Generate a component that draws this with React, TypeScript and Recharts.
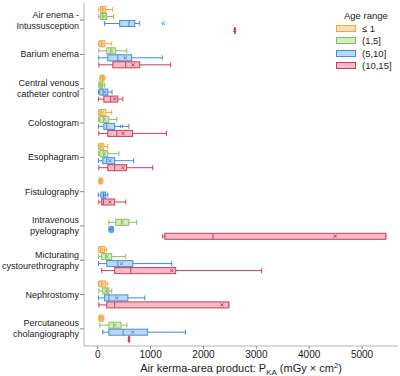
import React from 'react';
import { ComposedChart, Bar, XAxis, YAxis } from 'recharts';

const procedures = [
  'Air enema -\nIntussusception',
  'Barium enema',
  'Central venous\ncatheter control',
  'Colostogram',
  'Esophagram',
  'Fistulography',
  'Intravenous\npyelography',
  'Micturating\ncystourethrography',
  'Nephrostomy',
  'Percutaneous\ncholangiography',
];

const ageRanges = ['≤ 1', '(1,5]', '(5,10]', '(10,15]'];

// [min, q1, median, q3, max, mean] per procedure, null = no data
const ageUpTo1 = [
  [20, 55, 95, 150, 285, 100],
  [20, 28, 75, 135, 265, 85],
  [40, 55, 90, 115, 135, 90],
  [15, 25, 60, 150, 265, 85],
  [15, 20, 60, 115, 190, 70],
  [20, 30, 50, 80, 95, 55],
  null,
  [15, 20, 60, 130, 170, 75],
  [15, 25, 75, 150, 190, 85],
  [20, 30, 60, 100, 115, 65],
];

const age1to5 = [
  [20, 55, 95, 170, 300, 120],
  [20, 170, 245, 340, 550, 260],
  [20, 25, 60, 95, 130, 65],
  [15, 40, 115, 210, 360, 130],
  [15, 40, 115, 190, 400, 125],
  null,
  [210, 340, 450, 590, 735, 460],
  [15, 75, 150, 265, 530, 180],
  [20, 95, 170, 210, 265, 160],
  [40, 210, 300, 440, 550, 320],
];

const age5to10 = [
  [130, 415, 590, 700, 795, 1240],
  [20, 190, 380, 640, 1220, 520],
  [15, 40, 100, 190, 270, 130],
  [15, 115, 170, 320, 590, 450],
  [15, 95, 170, 320, 680, 230],
  [10, 60, 110, 150, 190, 115],
  [210, 230, 250, 285, 300, 250],
  [15, 170, 380, 665, 1400, 450],
  [15, 130, 210, 570, 890, 360],
  [95, 210, 480, 940, 1660, 660],
];

const age10to15 = [
  [2590, 2590, 2590, 2590, 2590, 2590],
  [20, 285, 530, 795, 1380, 665],
  [15, 115, 245, 380, 475, 320],
  [20, 190, 360, 660, 1300, 480],
  [20, 190, 320, 545, 1040, 475],
  [20, 75, 110, 320, 530, 230],
  [1230, 1270, 2180, 5450, 5450, 4490],
  [75, 320, 625, 1475, 3100, 1400],
  [20, 170, 320, 2480, 2480, 2350],
  [590, 590, 590, 590, 590, 590],
];

const xTicks = [0, 1000, 2000, 3000, 4000, 5000];

const groups = [ageUpTo1, age1to5, age5to10, age10to15];
const strokes = ['#EDA540', '#8CBF5C', '#3F8FDC', '#C83E5E'];
const fills = ['#FBDFB6', '#D6EBC3', '#BDD8F3', '#F2BBC7'];

const FONT = '"Liberation Sans", Arial, sans-serif';

const rows = procedures.map((name, i) => ({
  name,
  stats: groups.map((g) => g[i]),
}));

// bar runs from 0 to max; positions inside are taken along the bar
const BoxShape = (props: any) => {
  const { x, y, width, height, payload, group } = props;
  const s = payload.stats[group];
  if (!s) return null;
  const [min, q1, med, q3, max, mean] = s;
  const px = (v: number) => x + (v / max) * width;
  const cy = y + height / 2;
  const stroke = strokes[group];
  const h = 3;
  return (
    <g stroke={stroke} strokeWidth={1} fill="none">
      <line x1={px(min)} x2={px(q1)} y1={cy} y2={cy} />
      <line x1={px(q3)} x2={px(max)} y1={cy} y2={cy} />
      <line x1={px(min)} x2={px(min)} y1={cy - 2.5} y2={cy + 2.5} />
      <line x1={px(max)} x2={px(max)} y1={cy - 2.5} y2={cy + 2.5} />
      <rect x={px(q1)} y={cy - h} width={Math.max(px(q3) - px(q1), 0.5)} height={h * 2} fill={fills[group]} />
      <line x1={px(med)} x2={px(med)} y1={cy - h} y2={cy + h} />
      <line x1={px(mean) - 1.5} x2={px(mean) + 1.5} y1={cy - 1.5} y2={cy + 1.5} />
      <line x1={px(mean) - 1.5} x2={px(mean) + 1.5} y1={cy + 1.5} y2={cy - 1.5} />
    </g>
  );
};

const ProcedureTick = (props: any) => {
  const { x, y, payload } = props;
  const lines = String(payload.value).split('\n');
  const lh = 11;
  const y0 = y - ((lines.length - 1) * lh) / 2;
  return (
    <text textAnchor="end" dominantBaseline="central" fontSize={9} fill="#222" fontFamily={FONT}>
      {lines.map((l, i) => (
        <tspan key={i} x={x} y={y0 + i * lh}>{l}</tspan>
      ))}
    </text>
  );
};

const AxisTitle = (props: any) => {
  const { viewBox } = props;
  const cx = viewBox.x + viewBox.width / 2;
  const ty = viewBox.y + 26;
  return (
    <text x={cx} y={ty} textAnchor="middle" fontSize={11} fill="#222" fontFamily={FONT}>
      Air kerma-area product: P
      <tspan dy={2.5} fontSize={8}>KA</tspan>
      <tspan dy={-2.5}> (mGy × cm</tspan>
      <tspan dy={-4} fontSize={7.5}>2</tspan>
      <tspan dy={4}>)</tspan>
    </text>
  );
};

export default function App() {
  return (
    <div style={{ position: 'absolute', left: 0, top: 0, width: 400, height: 376, background: '#fff' }}>
      <ComposedChart
        width={400}
        height={376}
        data={rows}
        layout="vertical"
        margin={{ top: 3, right: 2, left: 0, bottom: 0 }}
        barSize={7}
        barGap={0}
      >
        <XAxis
          type="number"
          domain={[-260, 5680]}
          ticks={xTicks}
          allowDataOverflow
          height={30}
          tickSize={3}
          tickMargin={2}
          axisLine={{ stroke: '#b5b5b5' }}
          tickLine={{ stroke: '#888' }}
          tick={{ fontSize: 10, fill: '#222', fontFamily: FONT }}
          label={<AxisTitle />}
        />
        <XAxis
          xAxisId="top"
          orientation="top"
          type="number"
          domain={[-260, 5680]}
          height={0}
          tick={false}
          tickLine={false}
          axisLine={{ stroke: '#b5b5b5' }}
        />
        <YAxis
          type="category"
          dataKey="name"
          width={84}
          tickSize={4}
          tickMargin={1}
          interval={0}
          axisLine={{ stroke: '#b5b5b5' }}
          tickLine={{ stroke: '#888' }}
          tick={<ProcedureTick />}
        />
        <YAxis
          yAxisId="right"
          orientation="right"
          type="category"
          dataKey="name"
          width={0}
          tick={false}
          tickLine={false}
          axisLine={{ stroke: '#b5b5b5' }}
        />
        {ageRanges.map((label, i) => (
          <Bar
            key={label}
            name={label}
            dataKey={(row: any) => (row.stats[i] ? row.stats[i][4] : null)}
            isAnimationActive={false}
            shape={(p: any) => <BoxShape {...p} group={i} />}
          />
        ))}
      </ComposedChart>

      {/* Legend */}
      <div style={{ position: 'absolute', left: 336, top: 9, fontFamily: FONT, fontSize: 9.5, color: '#222' }}>
        <div style={{ marginLeft: 8, height: 13, lineHeight: '13px' }}>Age range</div>
        {ageRanges.map((label, i) => (
          <div key={label} style={{ display: 'flex', alignItems: 'center', height: 12.5 }}>
            <div style={{ width: 18, height: 5, background: fills[i], border: `1px solid ${strokes[i]}` }} />
            <span style={{ marginLeft: 6 }}>{label}</span>
          </div>
        ))}
      </div>
    </div>
  );
}
